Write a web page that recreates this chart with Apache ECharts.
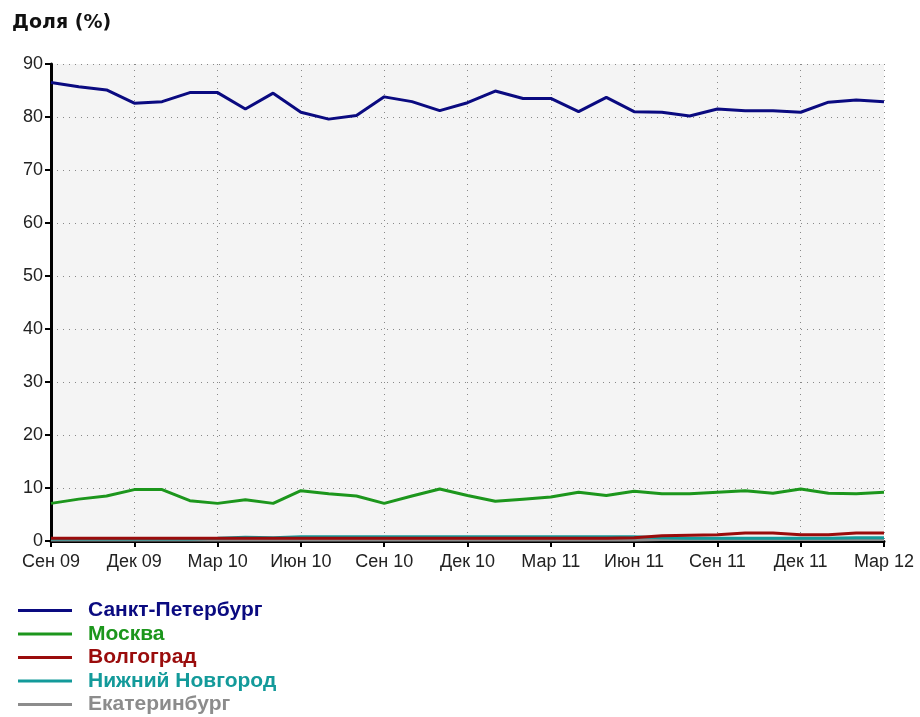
<!DOCTYPE html>
<html>
<head>
<meta charset="utf-8">
<script src="https://cdn.jsdelivr.net/npm/echarts@6/dist/echarts.min.js"></script>
<style>
  html, body { margin: 0; padding: 0; background: #fff; }
  #chart { width: 920px; height: 717px; }
</style>
</head>
<body>
<div id="chart"></div>
<script>
// monthly points, Sep 2009 .. Mar 2012
const months = ['Сен 09','Окт 09','Ноя 09','Дек 09','Янв 10','Фев 10','Мар 10','Апр 10','Май 10','Июн 10',
  'Июл 10','Авг 10','Сен 10','Окт 10','Ноя 10','Дек 10','Янв 11','Фев 11','Мар 11','Апр 11',
  'Май 11','Июн 11','Июл 11','Авг 11','Сен 11','Окт 11','Ноя 11','Дек 11','Янв 12','Фев 12','Мар 12'];

const spb = [86.5, 85.7, 85.1, 82.6, 82.9, 84.6, 84.6, 81.5, 84.5, 80.9,
  79.6, 80.3, 83.8, 82.9, 81.2, 82.7, 84.9, 83.5, 83.5, 81.0,
  83.7, 81.0, 80.9, 80.2, 81.5, 81.2, 81.2, 80.9, 82.8, 83.2, 82.9];
const moscow = [7.1, 7.9, 8.5, 9.7, 9.7, 7.6, 7.1, 7.8, 7.1, 9.5,
  8.9, 8.5, 7.1, 8.5, 9.8, 8.6, 7.5, 7.9, 8.3, 9.2,
  8.6, 9.4, 8.9, 8.9, 9.2, 9.5, 9.0, 9.8, 9.0, 8.9, 9.2];
const volgograd = [0.5, 0.5, 0.5, 0.5, 0.5, 0.5, 0.5, 0.5, 0.5, 0.5,
  0.5, 0.5, 0.5, 0.5, 0.5, 0.5, 0.5, 0.5, 0.5, 0.5,
  0.5, 0.6, 1.0, 1.1, 1.2, 1.5, 1.5, 1.2, 1.2, 1.5, 1.5];
const nizhny = [0.4, 0.4, 0.4, 0.4, 0.4, 0.4, 0.5, 0.7, 0.6, 0.8,
  0.8, 0.8, 0.8, 0.8, 0.8, 0.8, 0.8, 0.8, 0.8, 0.8,
  0.8, 0.8, 0.6, 0.5, 0.5, 0.5, 0.5, 0.5, 0.5, 0.6, 0.6];
const ekb = [0.2, 0.2, 0.2, 0.2, 0.2, 0.2, 0.2, 0.2, 0.2, 0.2,
  0.2, 0.2, 0.2, 0.2, 0.2, 0.2, 0.2, 0.2, 0.2, 0.2,
  0.2, 0.2, 0.3, 0.3, 0.3, 0.3, 0.3, 0.3, 0.3, 0.3, 0.3];

const names = ['Санкт-Петербург', 'Москва', 'Волгоград', 'Нижний Новгород', 'Екатеринбург'];
const colors = ['#0a0a80', '#1c961c', '#9a0c0c', '#139a9a', '#8c8c8c'];
const values = [spb, moscow, volgograd, nizhny, ekb];

const chart = echarts.init(document.getElementById('chart'));

const rich = {};
names.forEach((n, i) => {
  rich['c' + i] = { color: colors[i], fontSize: 21, fontWeight: 'bold', fontFamily: 'Liberation Sans, Arial' };
});

const option = {
  animation: false,
  title: {
    text: 'Доля (%)',
    left: 7, top: 9,
    textStyle: { fontSize: 19, fontWeight: 'bold', color: '#111', fontFamily: 'DejaVu Sans' }
  },
  grid: {
    left: 51, right: 36, top: 64, bottom: 176,
    show: true, backgroundColor: '#f4f4f4', borderWidth: 0
  },
  legend: {
    orient: 'vertical',
    left: 18, top: 600,
    padding: 0,
    icon: 'rect',
    itemWidth: 54, itemHeight: 3,
    itemGap: 2.5,
    data: names,
    formatter: function (name) { return '{c' + names.indexOf(name) + '|' + name + '}'; },
    textStyle: { rich: rich, padding: [0, 0, 0, 11] }
  },
  xAxis: {
    type: 'category',
    data: months,
    boundaryGap: false,
    axisLine: { lineStyle: { color: '#000', width: 3 } },
    axisTick: { interval: 2, length: 6, lineStyle: { color: '#000', width: 2 } },
    axisLabel: { interval: 2, color: '#222', fontSize: 18, margin: 12, fontFamily: 'Liberation Sans, Arial' },
    splitLine: { show: true, interval: 2, lineStyle: { color: '#888', type: [1, 5], width: 1 } }
  },
  yAxis: {
    type: 'value',
    min: 0, max: 90, interval: 10,
    axisLine: { show: true, lineStyle: { color: '#000', width: 3 } },
    axisTick: { show: true, length: 6, lineStyle: { color: '#000', width: 2 } },
    axisLabel: { color: '#222', fontSize: 18, margin: 8, fontFamily: 'Liberation Sans, Arial' },
    splitLine: { show: true, lineStyle: { color: '#888', type: [1, 5], width: 1 } }
  },
  series: names.map((n, i) => ({
    name: n,
    type: 'line',
    data: values[i],
    symbol: 'none',
    color: colors[i],
    lineStyle: { width: 3, color: colors[i] },
    z: 10 - i
  }))
};

chart.setOption(option);
</script>
</body>
</html>
